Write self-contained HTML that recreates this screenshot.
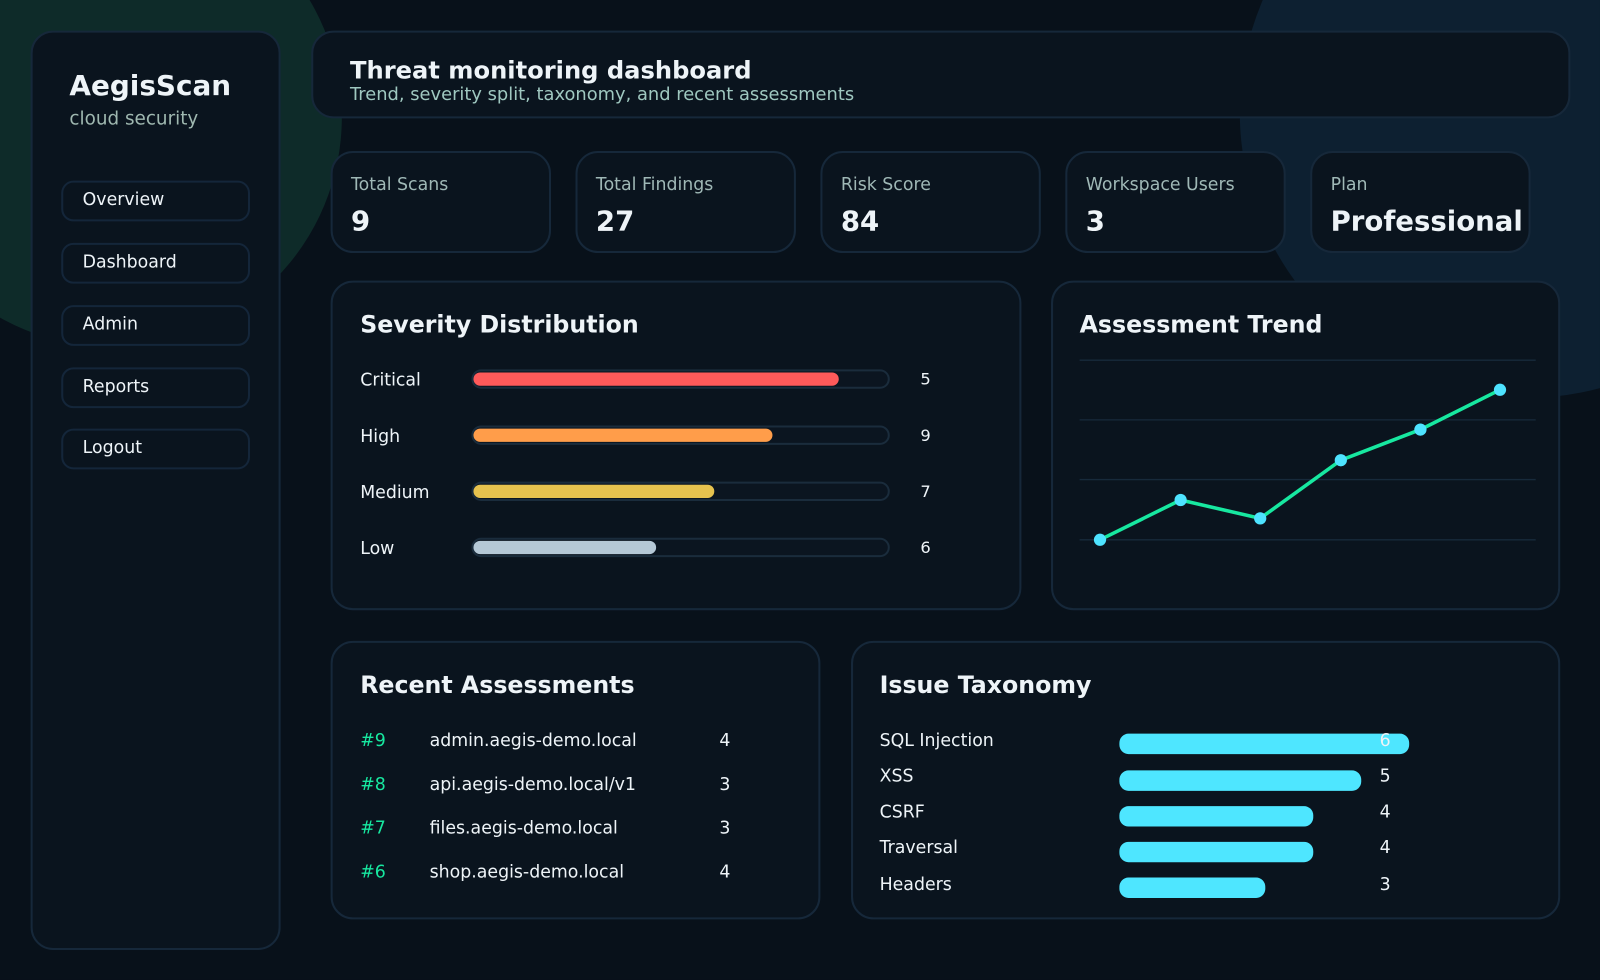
<!DOCTYPE html>
<html><head><meta charset="utf-8"><style>
*{box-sizing:border-box;margin:0;padding:0}
html,body{width:1600px;height:980px;overflow:hidden;background:#08111a;font-family:"DejaVu Sans","Liberation Sans",sans-serif;color:#eef4f8}
#w{position:absolute;left:0;top:0;width:1568px;height:960px;transform:scale(1.020408);transform-origin:0 0;overflow:hidden;background:#08111a}
.a{position:absolute}
.card{position:absolute;background:#0a141e;border:2px solid #16283a;border-radius:22px}
.nav{position:absolute;left:60px;width:185px;height:40px;border:2px solid #14263a;border-radius:12px;font-size:17px;padding-left:19px;line-height:35px;background:#0a141e}
.kl{position:absolute;font-size:17px;color:#9fb8b6;left:18px;top:21px}
.kv{position:absolute;font-size:27px;font-weight:bold;left:18px;top:52px}
.t{position:absolute;font-size:23.2px;font-weight:bold}
.sl{position:absolute;left:353px;font-size:17px}
.tr{position:absolute;left:462px;width:410px;height:19px;border:2px solid #1a2c3c;border-radius:10px;background:#0b1520}
.tr div{position:absolute;left:0;top:1px;height:13px;border-radius:7px}
.sv{position:absolute;left:902px;font-size:16px}
.r{position:absolute;font-size:17px}
.tb{position:absolute;left:1097px;height:20px;background:#4ee6ff;border-radius:9px}
</style></head><body><div id="w">
<div class="a" style="left:-115px;top:-110px;width:450px;height:450px;border-radius:50%;background:#0e2b29"></div>
<div class="a" style="left:1215px;top:-170px;width:560px;height:560px;border-radius:50%;background:#0d2031"></div>

<div class="card" style="left:30px;top:30px;width:245px;height:901px"></div>
<div class="a" style="left:68px;top:69px;font-size:27.3px;font-weight:bold">AegisScan</div>
<div class="a" style="left:68px;top:106px;font-size:18px;color:#9fb8b0">cloud security</div>
<div class="nav" style="top:177px">Overview</div>
<div class="nav" style="top:238px">Dashboard</div>
<div class="nav" style="top:299px">Admin</div>
<div class="nav" style="top:360px">Reports</div>
<div class="nav" style="top:420px">Logout</div>

<div class="card" style="left:305px;top:30px;width:1234px;height:86px"></div>
<div class="a" style="left:343px;top:55px;font-size:23.7px;font-weight:bold">Threat monitoring dashboard</div>
<div class="a" style="left:343px;top:83px;font-size:17.5px;color:#9fc8c0">Trend, severity split, taxonomy, and recent assessments</div>

<div class="card" style="left:324px;top:148px;width:216px;height:100px"><div class="kl">Total Scans</div><div class="kv">9</div></div>
<div class="card" style="left:564px;top:148px;width:216px;height:100px"><div class="kl">Total Findings</div><div class="kv">27</div></div>
<div class="card" style="left:804px;top:148px;width:216px;height:100px"><div class="kl">Risk Score</div><div class="kv">84</div></div>
<div class="card" style="left:1044px;top:148px;width:216px;height:100px"><div class="kl">Workspace Users</div><div class="kv">3</div></div>
<div class="card" style="left:1284px;top:148px;width:216px;height:100px"><div class="kl">Plan</div><div class="kv">Professional</div></div>

<div class="card" style="left:324px;top:275px;width:677px;height:323px"></div>
<div class="t" style="left:353px;top:305px">Severity Distribution</div>
<div class="sl" style="top:363px">Critical</div><div class="tr" style="top:362px"><div style="width:358px;background:#ff5a5a"></div></div><div class="sv" style="top:362px">5</div>
<div class="sl" style="top:418px">High</div><div class="tr" style="top:417px"><div style="width:293px;background:#ff9d4a"></div></div><div class="sv" style="top:417px">9</div>
<div class="sl" style="top:473px">Medium</div><div class="tr" style="top:472px"><div style="width:236px;background:#e6c24e"></div></div><div class="sv" style="top:472px">7</div>
<div class="sl" style="top:528px">Low</div><div class="tr" style="top:527px"><div style="width:179px;background:#b5c8d6"></div></div><div class="sv" style="top:527px">6</div>

<div class="card" style="left:1030px;top:275px;width:499px;height:323px"></div>
<div class="t" style="left:1058px;top:305px">Assessment Trend</div>
<svg class="a" style="left:0;top:0" width="1568" height="960">
<g stroke="#172a3b" stroke-width="1.3"><line x1="1058" y1="353" x2="1505" y2="353"/><line x1="1058" y1="411.5" x2="1505" y2="411.5"/><line x1="1058" y1="470" x2="1505" y2="470"/><line x1="1058" y1="529" x2="1505" y2="529"/></g>
<polyline points="1078,529 1157,490 1235,508 1314,451 1392,421 1470,382" fill="none" stroke="#17e8a0" stroke-width="3.5"/>
<g fill="#4ee3ff"><circle cx="1078" cy="529" r="6"/><circle cx="1157" cy="490" r="6"/><circle cx="1235" cy="508" r="6"/><circle cx="1314" cy="451" r="6"/><circle cx="1392" cy="421" r="6"/><circle cx="1470" cy="382" r="6"/></g>
</svg>

<div class="card" style="left:324px;top:628px;width:480px;height:273px"></div>
<div class="t" style="left:353px;top:658px">Recent Assessments</div>
<div class="r" style="left:353px;top:716px;color:#17e8a0">#9</div><div class="r" style="left:421px;top:716px">admin.aegis-demo.local</div><div class="r" style="left:705px;top:716px">4</div>
<div class="r" style="left:353px;top:759px;color:#17e8a0">#8</div><div class="r" style="left:421px;top:759px">api.aegis-demo.local/v1</div><div class="r" style="left:705px;top:759px">3</div>
<div class="r" style="left:353px;top:802px;color:#17e8a0">#7</div><div class="r" style="left:421px;top:802px">files.aegis-demo.local</div><div class="r" style="left:705px;top:802px">3</div>
<div class="r" style="left:353px;top:845px;color:#17e8a0">#6</div><div class="r" style="left:421px;top:845px">shop.aegis-demo.local</div><div class="r" style="left:705px;top:845px">4</div>

<div class="card" style="left:834px;top:628px;width:695px;height:273px"></div>
<div class="t" style="left:862px;top:658px">Issue Taxonomy</div>
<div class="r" style="left:862px;top:716px">SQL Injection</div><div class="tb" style="top:719px;width:284px"></div><div class="r" style="left:1352px;top:716px">6</div>
<div class="r" style="left:862px;top:751px">XSS</div><div class="tb" style="top:755px;width:237px"></div><div class="r" style="left:1352px;top:751px">5</div>
<div class="r" style="left:862px;top:786px">CSRF</div><div class="tb" style="top:790px;width:190px"></div><div class="r" style="left:1352px;top:786px">4</div>
<div class="r" style="left:862px;top:821px">Traversal</div><div class="tb" style="top:825px;width:190px"></div><div class="r" style="left:1352px;top:821px">4</div>
<div class="r" style="left:862px;top:857px">Headers</div><div class="tb" style="top:860px;width:143px"></div><div class="r" style="left:1352px;top:857px">3</div>
</div></body></html>
